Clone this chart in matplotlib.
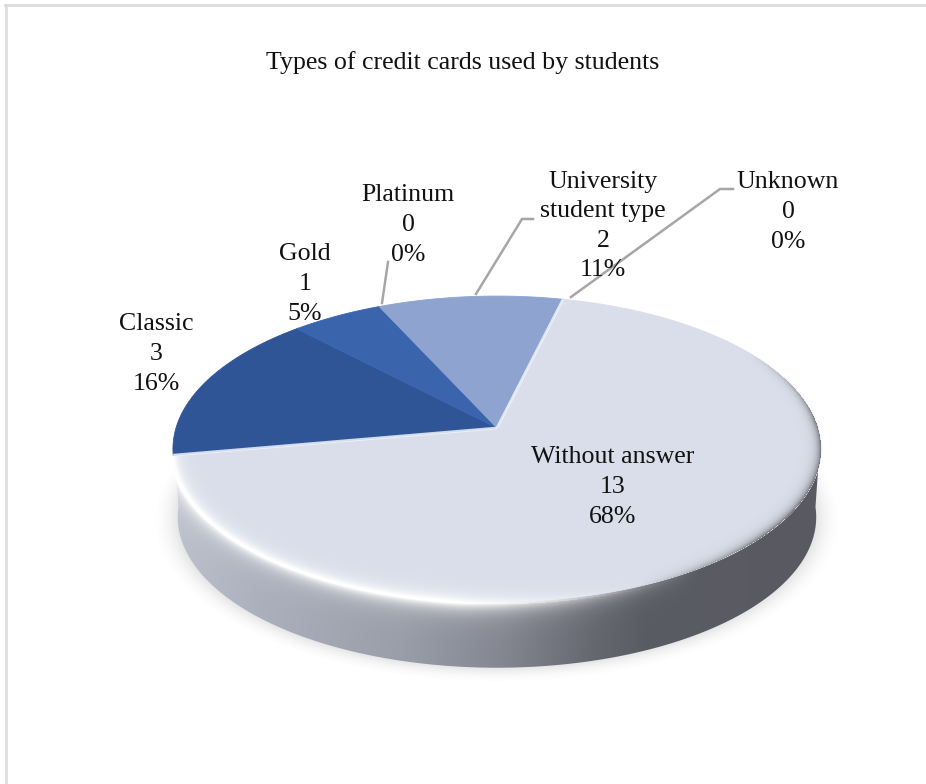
#!/usr/bin/python3

import numpy as np
import matplotlib
matplotlib.use('Agg')
import matplotlib.pyplot as plt
from matplotlib.patches import Polygon

categories = ['Without answer', 'Classic', 'Gold', 'Platinum', 'University\nstudent type', 'Unknown']
counts = [13, 3, 1, 0, 2, 0]
colors = ['#d9deea', '#2f5597', '#3a65ad', '#3a65ad', '#8ea3cf', '#8ea3cf']
title = 'Types of credit cards used by students'

# centre of each label (pixels)
label_pos = [(613, 487), (156, 354), (305, 284), (408, 225), (603, 226), (788, 212)]

# grey leader lines
leaders = [
    [(382, 303), (388, 262)],
    [(476, 294), (522, 219), (533, 219)],
    [(571, 297), (720, 189), (733, 189)],
]

# pie geometry, tilted disc with a bit of perspective
cx, cy = 497.0, 428.0
R, a, k = 321.0, 150.0, 0.137
start = 13.5
bottom_scale = 0.985
bottom_shift = 68.5


def project(X, Y, scale=1.0, shift=0.0):
    d = 1 + k * Y
    return cx + scale * R * X / d, cy - scale * a * Y / d + shift


def unproject(px, py, scale=1.0, shift=0.0):
    s = (cy + shift - py) / (scale * a)
    Y = s / (1 - k * s)
    X = (px - cx) / (scale * R) * (1 + k * Y)
    return X, Y


def arc(a0, a1, n=200, **kw):
    # angles in degrees, clockwise from the back of the disc
    t = np.radians(np.linspace(a0, a1, n))
    return project(np.sin(t), np.cos(t), **kw)


W, H = 926, 784
fig = plt.figure(figsize=(W / 100, H / 100), dpi=100)
ax = fig.add_axes([0, 0, 1, 1])
ax.set_xlim(0, W)
ax.set_ylim(H, 0)
ax.axis('off')

# frame, only top and left show up
ax.plot([6, 6], [5, H], color='#e0e0e0', lw=2.2, zorder=1)
ax.plot([5, W], [5, 5], color='#dcdcdc', lw=2.0, zorder=1)

yy, xx = np.mgrid[0:H, 0:W] + 0.5
Xt, Yt = unproject(xx, yy)
rt = np.hypot(Xt, Yt)
Xb, Yb = unproject(xx, yy, bottom_scale, bottom_shift)
rb = np.hypot(Xb, Yb)

# soft shadow under the disc
shadow = np.zeros((H, W, 4))
shadow[..., :3] = 0.5
shadow[..., 3] = 0.32 * np.clip(1 - (rb - 0.98) / 0.10, 0, 1) ** 2
ax.imshow(shadow, extent=(0, W, H, 0), zorder=1.5, aspect='auto', interpolation='bilinear')

# side wall, shaded left to right
stops_x = [170, 260, 400, 500, 600, 645, 825]
stops_c = [(0.74, 0.76, 0.80), (0.67, 0.69, 0.74), (0.60, 0.62, 0.66), (0.52, 0.53, 0.57),
           (0.39, 0.40, 0.43), (0.35, 0.36, 0.39), (0.35, 0.35, 0.38)]
side = np.zeros((H, W, 3))
for i in range(3):
    side[..., i] = np.interp(xx, stops_x, [c[i] for c in stops_c])

# bright bevel along the front edge, dying out towards the right
local = np.hypot(R * Xt, 174 * Yt) / np.maximum(rt, 1e-3)
dist = np.abs(rt - 1) * local
glow = np.exp(-np.maximum(dist - 2, 0) / 7) * np.clip((700 - xx) / 240, 0, 1)
for i in range(3):
    side[..., i] = side[..., i] * (1 - glow) + glow

xa0, ya0 = arc(94, 266)
xb0, yb0 = arc(94, 266, scale=bottom_scale, shift=bottom_shift)
wall = Polygon(np.column_stack([np.r_[xa0, xb0[::-1]], np.r_[ya0, yb0[::-1]]]), closed=True,
               transform=ax.transData, fc='none', ec='none')
ax.add_patch(wall)
im = ax.imshow(side, extent=(0, W, H, 0), zorder=2, aspect='auto', interpolation='bilinear')
im.set_clip_path(wall)

# top face, one wedge per category
total = sum(counts)
ang = start
cuts = []
for n, c in zip(counts, colors):
    sweep = 360.0 * n / total
    if sweep > 0:
        ex, ey = arc(ang, ang + sweep)
        ax.add_patch(Polygon(np.column_stack([np.r_[cx, ex], np.r_[cy, ey]]), closed=True,
                             fc=c, ec=c, lw=0.6, zorder=3))
        cuts.append(ang)
    ang += sweep

# pale edges where the big wedge meets its neighbours
for t in [cuts[0], cuts[1]]:
    ex, ey = arc(t, t, 2)
    ax.plot([cx, ex[0]], [cy, ey[0]], color='#eef3fb', lw=2.0, alpha=0.85, zorder=3.5,
            solid_capstyle='butt')

# inner part of the bevel, white on the left, dark on the right edge
rim = np.zeros((H, W, 4))
light_side = xx < 640
rim[..., :3] = np.where(light_side[..., None], 1.0, 0.30)
front_light = np.exp(-dist / 6) * np.clip((640 - xx) / 200, 0, 1) * (Yt < -0.18) * (rt < 1.012)
fade_up = np.clip((0.55 - Yt) / 0.5, 0, 1)
front_dark = 0.7 * np.exp(-dist / 4) * np.clip((xx - 640) / 120, 0, 1) * fade_up * (rt < 1.0)
rim[..., 3] = np.where(light_side, front_light, front_dark)
ax.imshow(rim, extent=(0, W, H, 0), zorder=3.6, aspect='auto', interpolation='bilinear')
ax.set_xlim(0, W)
ax.set_ylim(H, 0)

for pts in leaders:
    ax.plot(*zip(*pts), color='#a6a6a6', lw=1.8, zorder=4, solid_joinstyle='miter')

font = ['Liberation Serif', 'DejaVu Serif']
for name, n, (lx, ly) in zip(categories, counts, label_pos):
    txt = '%s\n%d\n%d%%' % (name, n, round(100.0 * n / total))
    ax.text(lx, ly, txt, ha='center', va='center', family=font, fontsize=18.6,
            color='#111111', linespacing=1.45, zorder=5)

ax.text(463, 63, title, ha='center', va='center', family=font, fontsize=18.6, color='#111111', zorder=5)

fig.savefig('out.png', dpi=100)
